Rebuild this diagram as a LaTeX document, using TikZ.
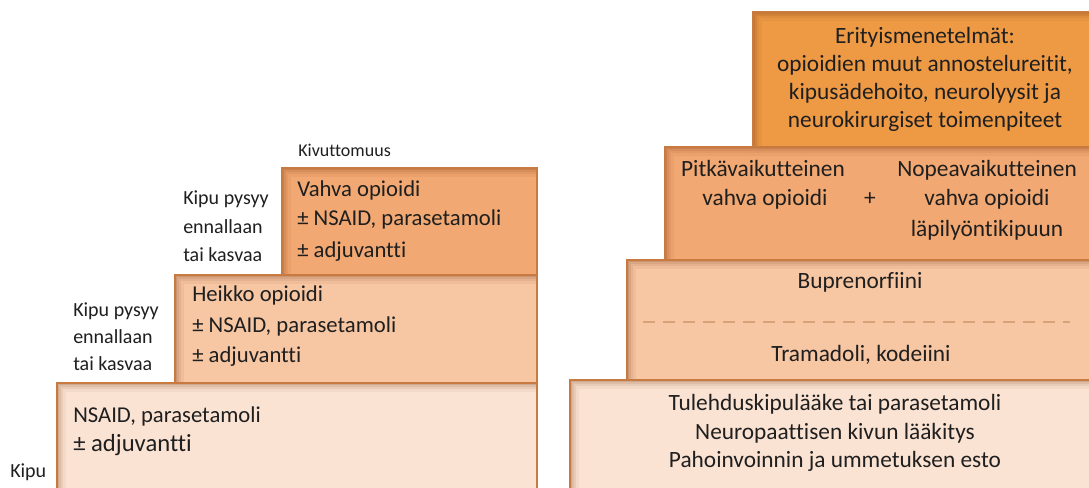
\documentclass[tikz,border=0pt]{standalone}
\usepackage{fontspec}
\setmainfont{Carlito}[RawFeature={-liga;-clig;-dlig}]
\definecolor{cLight}{HTML}{FBE3D3}
\definecolor{cMid}{HTML}{F7C6A3}
\definecolor{cDark}{HTML}{F1A872}
\definecolor{cTop}{HTML}{EE9A45}
\definecolor{cEdge}{HTML}{C87A40}
\definecolor{cShade}{HTML}{7A3A10}
\definecolor{cText}{HTML}{1F1F1F}
\tikzset{
  box/.style={draw=cEdge, line width=0.8pt, path picture={
    \foreach \w/\o in {13/0.06,9/0.08,5.5/0.1,2.5/0.15}{
      \draw[cShade, opacity=\o, line width=\w pt]
        (path picture bounding box.south west) |- (path picture bounding box.north east);}
  }},
  txt/.style={inner sep=0pt, text=cText, text height=0.7em, text depth=0.2em},
  lab/.style={txt, anchor=west, font=\fontsize{15}{17}\selectfont},
  lt/.style={txt, anchor=west, font=\fontsize{17}{19}\selectfont},
  rt/.style={txt, anchor=center, font=\fontsize{17.5}{20}\selectfont},
}
\begin{document}
\begin{tikzpicture}[x=0.75pt,y=-0.75pt]
\clip (0,0) rectangle (1089,488);
\fill[white] (0,0) rectangle (1089,488);

% ---------- left staircase ----------
\path[box, fill=cLight] (57,383) rectangle (537,500);
\path[box, fill=cMid]   (175,275) rectangle (537,383);
\path[box, fill=cDark]  (282,168) rectangle (537,275);

\node[lab, font=\fontsize{13.5}{15}\selectfont] (kiv) at (298,153) {Kivuttomuus};
\node[lab] (u1) at (183,201) {Kipu pysyy};
\node[lab] (u2) at (183,230) {ennallaan};
\node[lab] (u3) at (183,258) {tai kasvaa};
\node[lab] (m1) at (73,313) {Kipu pysyy};
\node[lab] (m2) at (73,340) {ennallaan};
\node[lab] (m3) at (73,367) {tai kasvaa};
\node[lab] (kipu) at (10,474) {Kipu};

\node[lt] (t1) at (297,193) {Vahva opioidi};
\node[lt] (t2) at (297,222) {± NSAID, parasetamoli};
\node[lt] (t3) at (297,254) {± adjuvantti};
\node[lt] (h1) at (192,298) {Heikko opioidi};
\node[lt] (h2) at (192,329) {± NSAID, parasetamoli};
\node[lt] (h3) at (192,359) {± adjuvantti};
\node[lt] (n1) at (73,419) {NSAID, parasetamoli};
\node[lt, font=\fontsize{18.5}{21}\selectfont] (n2) at (73,448) {± adjuvantti};

% ---------- right staircase ----------
\path[box, fill=cLight] (570,380) rectangle (1100,500);
\path[box, fill=cMid]   (627,260) rectangle (1100,380);
\path[box, fill=cDark]  (665,147) rectangle (1100,260);
\path[box, fill=cTop]   (753,12)  rectangle (1100,147);

\node[rt] (e1) at (925,40)  {Erityismenetelmät:};
\node[rt] (e2) at (925,68)  {opioidien muut annostelureitit,};
\node[rt] (e3) at (925,96)  {kipusädehoito, neurolyysit ja};
\node[rt] (e4) at (925,124) {neurokirurgiset toimenpiteet};

\node[rt] (p1) at (763,173) {Pitkävaikutteinen};
\node[rt] (p2) at (765,202) {vahva opioidi};
\node[rt] (plus) at (870,202) {+};
\node[rt] (q1) at (987,173) {Nopeavaikutteinen};
\node[rt] (q2) at (987,202) {vahva opioidi};
\node[rt] (q3) at (987,233) {läpilyöntikipuun};

\node[rt] (b1) at (860,285) {Buprenorfiini};
\coordinate (dl) at (643,322);
\coordinate (dr) at (1070,322);
\draw[cEdge!70, line width=0.8pt, dash pattern=on 9pt off 6pt] (dl) -- (dr);
\node[rt] (b2) at (861,358) {Tramadoli, kodeiini};

\node[rt] (w1) at (835,407) {Tulehduskipulääke tai parasetamoli};
\node[rt] (w2) at (835,436) {Neuropaattisen kivun lääkitys};
\node[rt] (w3) at (835,464) {Pahoinvoinnin ja ummetuksen esto};
\end{tikzpicture}
\end{document}
